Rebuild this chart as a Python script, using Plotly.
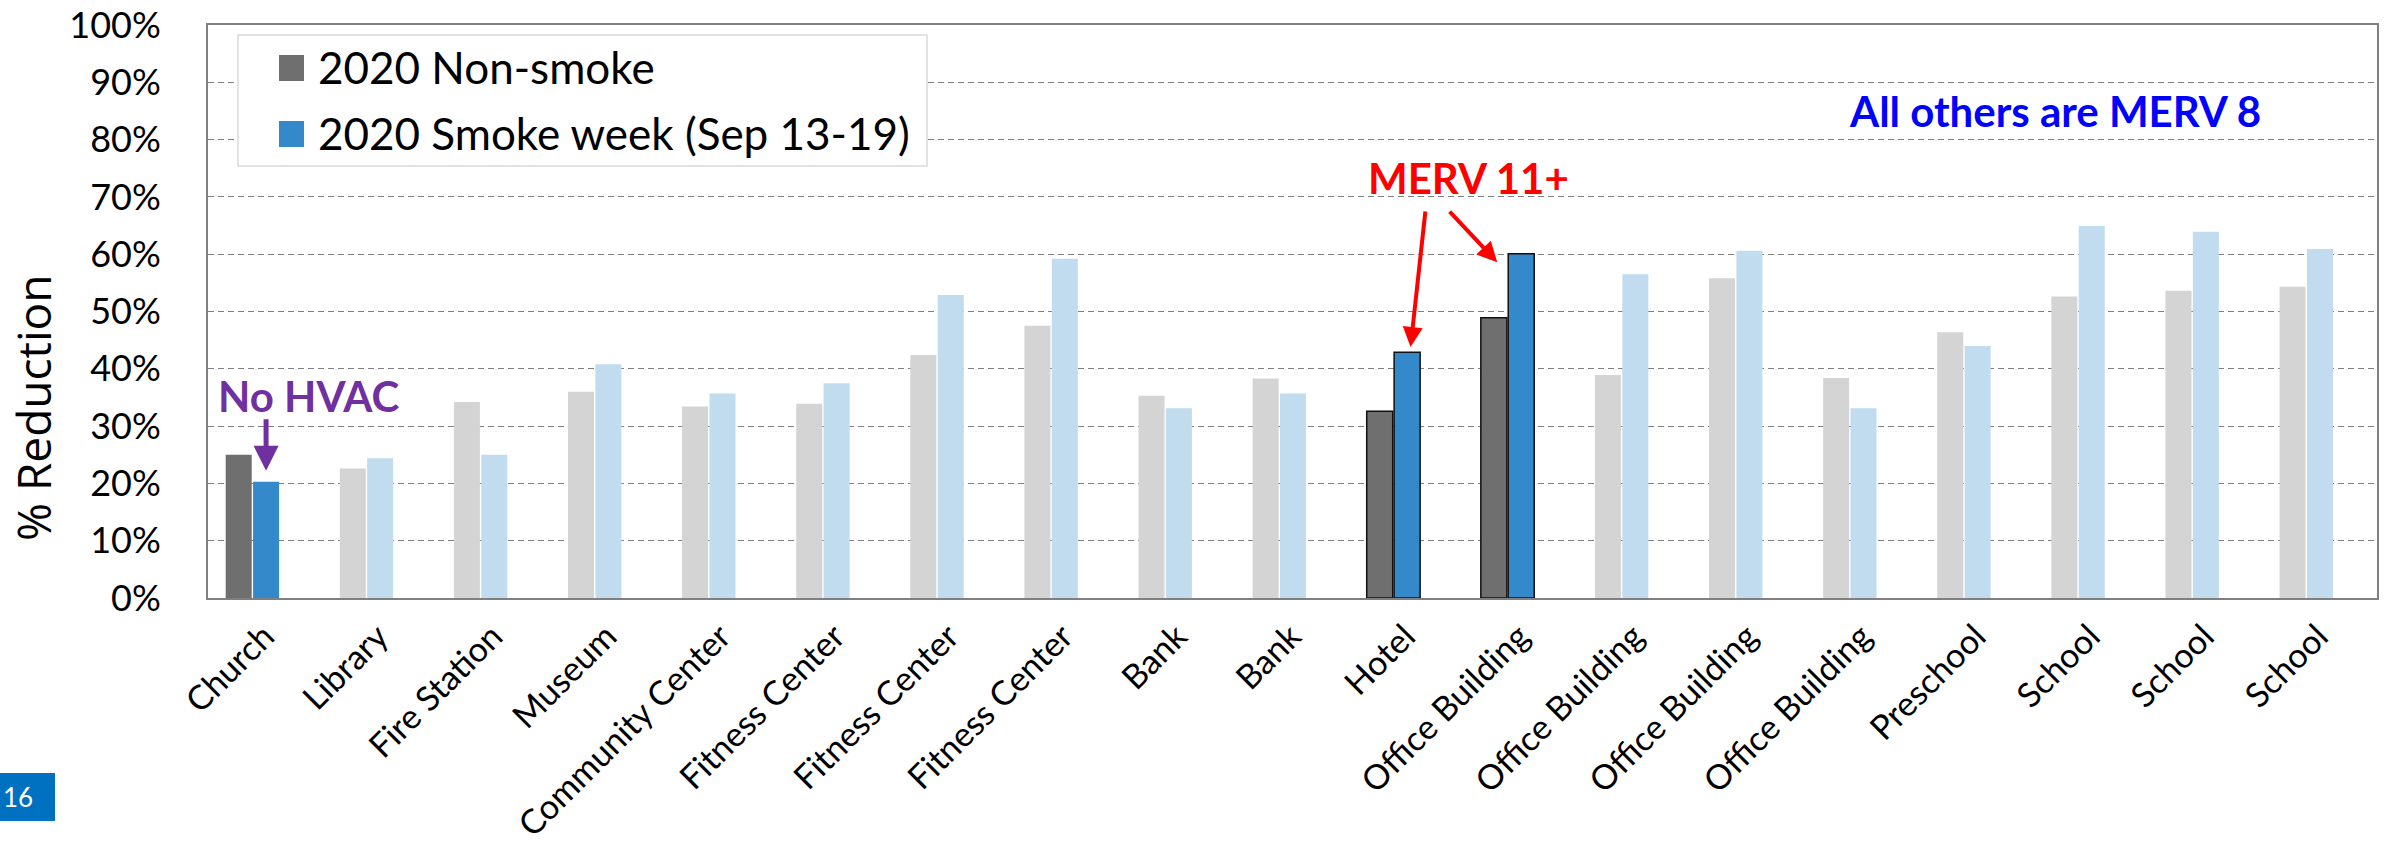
import plotly.graph_objects as go

# Building types monitored (one pair of bars per site)
categories = ["Church", "Library", "Fire Station", "Museum", "Community Center",
              "Fitness Center", "Fitness Center", "Fitness Center", "Bank", "Bank",
              "Hotel", "Office Building", "Office Building", "Office Building",
              "Office Building", "Preschool", "School", "School", "School"]

# Indoor PM2.5 reduction (%) relative to outdoors
non_smoke = [25.0, 22.6, 34.2, 36.0, 33.4, 33.9, 42.4, 47.5, 35.3, 38.3,
             32.6, 48.9, 38.9, 55.8, 38.4, 46.4, 52.6, 53.6, 54.3]
smoke_week = [20.3, 24.4, 25.0, 40.8, 35.7, 37.5, 52.9, 59.2, 33.1, 35.7,
              42.9, 60.1, 56.5, 60.6, 33.1, 44.0, 64.9, 63.9, 60.9]

series_names = ["2020 Non-smoke", "2020 Smoke week (Sep 13-19)"]
y_ticks = list(range(0, 101, 10))

# Sites called out on the chart
no_hvac_idx = 0
merv11_idx = [10, 11]
highlight = {no_hvac_idx, *merv11_idx}

# Figure geometry (pixels)
W, H = 2389, 846
L, R, T, B = 208, 12, 25, 248


def px_x(p):
    return (p - L) / (W - L - R)


def px_y(p):
    return (H - B - p) / (H - T - B)


DARK_GRAY, LIGHT_GRAY = "#6f6f6f", "#d4d4d4"
DARK_BLUE, LIGHT_BLUE = "#3389ca", "#c1dcef"

n = len(categories)
xs = list(range(n))
bar_w = 0.228

gray_colors = [DARK_GRAY if i in highlight else LIGHT_GRAY for i in xs]
blue_colors = [DARK_BLUE if i in highlight else LIGHT_BLUE for i in xs]
edge_w = [1.5 if i in merv11_idx else 0 for i in xs]

fig = go.Figure()
fig.add_trace(go.Bar(
    x=xs, y=non_smoke, name=series_names[0], width=bar_w, offset=-bar_w - 0.006,
    marker=dict(color=gray_colors, line=dict(color="#111111", width=edge_w)),
    showlegend=False,
))
fig.add_trace(go.Bar(
    x=xs, y=smoke_week, name=series_names[1], width=bar_w, offset=0.006,
    marker=dict(color=blue_colors, line=dict(color="#111111", width=edge_w)),
    showlegend=False,
))

font_main = "Lato, 'Open Sans', sans-serif"

shapes = []
annotations = []

# Legend box with swatches
shapes.append(dict(type="rect", xref="paper", yref="paper",
                   x0=px_x(238), x1=px_x(927), y0=px_y(166), y1=px_y(35),
                   line=dict(color="#d9d9d9", width=1.5), fillcolor="white", layer="above"))
for (y0, y1, col, yc, label) in [(55, 81, DARK_GRAY, 67, series_names[0]),
                                 (121, 147, DARK_BLUE, 133, series_names[1])]:
    shapes.append(dict(type="rect", xref="paper", yref="paper",
                       x0=px_x(279), x1=px_x(304), y0=px_y(y1), y1=px_y(y0),
                       line=dict(width=0), fillcolor=col, layer="above"))
    annotations.append(dict(xref="paper", yref="paper", x=px_x(316), y=px_y(yc),
                            xanchor="left", yanchor="middle", showarrow=False,
                            text=label, font=dict(family=font_main, size=44, color="black")))

# Slide number badge
shapes.append(dict(type="rect", xref="paper", yref="paper",
                   x0=px_x(0), x1=px_x(55), y0=px_y(821), y1=px_y(773),
                   line=dict(width=0), fillcolor="#0070c0"))
annotations.append(dict(xref="paper", yref="paper", x=px_x(1), y=px_y(797),
                        xanchor="left", yanchor="middle", showarrow=False, text="16",
                        font=dict(family=font_main, size=26, color="white")))

# Axis title
annotations.append(dict(xref="paper", yref="paper", x=px_x(33), y=px_y(408),
                        xanchor="center", yanchor="middle", showarrow=False,
                        text="% Reduction", textangle=-90,
                        font=dict(family="'Open Sans', sans-serif", size=46, color="black")))

# Callouts
annotations.append(dict(xref="x", yref="y", x=no_hvac_idx + 0.49, y=35.3,
                        showarrow=False, text="<b>No HVAC</b>",
                        font=dict(family=font_main, size=42, color="#7030a0")))
annotations.append(dict(xref="x", yref="y", x=no_hvac_idx + 0.12,
                        y=smoke_week[no_hvac_idx] + 1.9,
                        ax=0, ay=-53, showarrow=True, arrowhead=2, arrowsize=1,
                        arrowwidth=5, arrowcolor="#7030a0", text="", standoff=0))

annotations.append(dict(xref="x", yref="y", x=10.654, y=73.3,
                        showarrow=False, text="<b>MERV 11+</b>",
                        font=dict(family=font_main, size=42, color="#ff0000")))
hotel, office = merv11_idx
annotations.append(dict(xref="x", yref="y", x=hotel + 0.15, y=smoke_week[hotel] + 0.9,
                        ax=15, ay=-137, showarrow=True, arrowhead=2, arrowsize=1,
                        arrowwidth=4, arrowcolor="#ff0000", text="", standoff=0))
annotations.append(dict(xref="x", yref="y", x=office - 0.09, y=smoke_week[office] - 1.5,
                        ax=-49, ay=-52, showarrow=True, arrowhead=2, arrowsize=1,
                        arrowwidth=4, arrowcolor="#ff0000", text="", standoff=0))

annotations.append(dict(xref="x", yref="y", x=15.80, y=85.0,
                        showarrow=False, text="<b>All others are MERV 8</b>",
                        font=dict(family=font_main, size=42, color="#0000ff")))

fig.update_layout(
    width=W, height=H, autosize=False,
    margin=dict(l=L, r=R, t=T, b=B, pad=0),
    paper_bgcolor="white", plot_bgcolor="white",
    barmode="overlay",
    showlegend=False,
    shapes=shapes, annotations=annotations,
    font=dict(family=font_main, color="black"),
)

fig.update_xaxes(
    range=[-0.389, 18.62], automargin=False,
    tickmode="array", tickvals=xs, ticktext=categories,
    tickangle=-45, tickfont=dict(family=font_main, size=34, color="black"),
    ticks="", showgrid=False, zeroline=False,
    showline=True, linecolor="#808080", linewidth=2, mirror=True,
    ticklabelstandoff=3, ticklabelshift=12,
)
fig.update_yaxes(
    range=[0, 100], automargin=False,
    tickmode="array", tickvals=y_ticks, ticktext=[f"{v}%" for v in y_ticks],
    tickfont=dict(family=font_main, size=36, color="black"),
    ticks="", showgrid=True, gridcolor="#7f7f7f", gridwidth=1.3, griddash="6px,4px",
    zeroline=False,
    showline=True, linecolor="#808080", linewidth=2, mirror=True,
    ticklabelstandoff=38,
)

fig.write_html("out.html")
